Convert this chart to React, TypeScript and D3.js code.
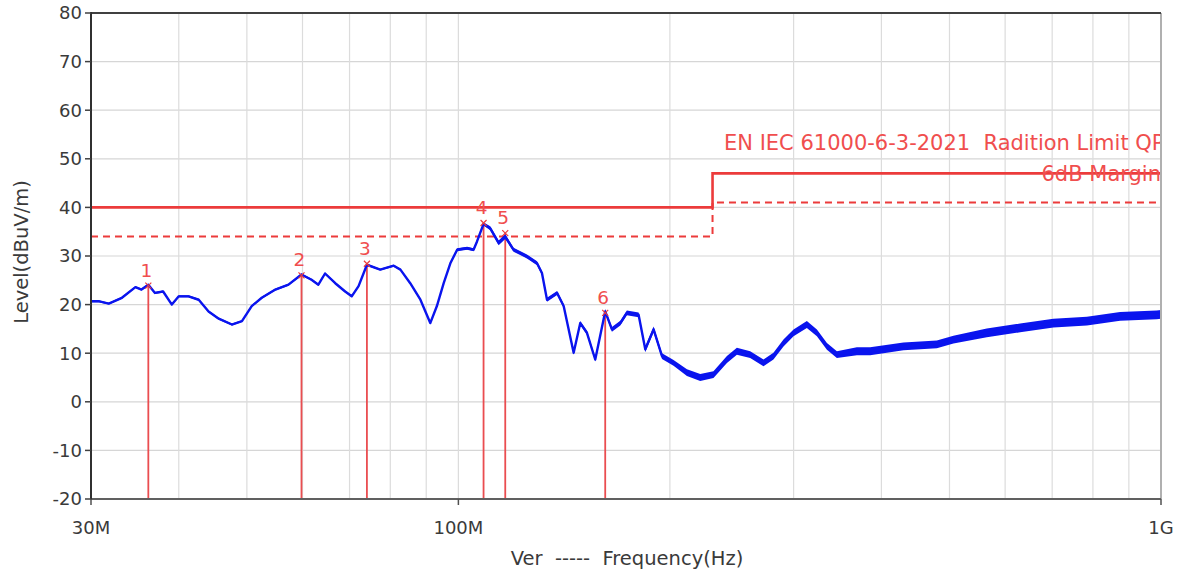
import React from "react";
import * as d3 from "d3";

// ---- data ----
const traceFreqMHz = [
  30, 30.75, 31.8, 33.2, 34.7, 35.4, 36.2, 37.0, 38.0, 39.1, 40.0, 41.3, 42.7, 44.1, 45.6, 47.6, 49.2,
  50.8, 52.5, 54.9, 57.3, 59.8, 61.8, 63.2, 64.6, 66.8, 69.0, 70.5, 72.1, 74.1, 77.4, 80.9, 82.7, 85.4,
  88.3, 91.2, 93.2, 95.3, 97.4, 99.6, 102.9, 105.1, 106.3, 108.6, 111.0, 114.1, 116.6, 119.8, 125.2,
  129.4, 131.5, 133.7, 138.2, 141.2, 145.9, 149.1, 152.4, 156.6, 161.8, 165.4, 170.0, 173.7, 180.5,
  184.5, 189.6, 194.9, 202.4, 211.5, 220.9, 230.7, 241.1, 249.1, 260.2, 271.8, 280.8, 290.2, 299.9,
  313.3, 323.8, 334.6, 345.7, 369.1, 385.5, 430.0, 479.7, 506.5, 565.0, 630.3, 702.9, 784.3, 874.5,
  986, 1000,
];
const traceLevel = [
  20.7, 20.7, 20.2, 21.4, 23.6, 23.1, 24.1, 22.4, 22.7, 20.0, 21.7, 21.7, 21.0, 18.6, 17.1, 15.9, 16.6,
  19.7, 21.4, 23.1, 24.1, 26.2, 25.1, 24.1, 26.4, 24.4, 22.7, 21.7, 23.8, 28.2, 27.2, 28.0, 27.2, 24.4,
  21.0, 16.2, 19.7, 24.4, 28.5, 31.3, 31.6, 31.3, 33.0, 36.6, 35.7, 32.7, 34.0, 31.3, 29.9,
  28.5, 26.5, 21.0, 22.4, 19.7, 10.1, 16.2, 14.2, 8.7, 18.6, 14.9, 16.2, 18.3, 17.9,
  10.8, 14.9, 9.4, 8.0, 6.0, 5.0, 5.6, 8.7, 10.4, 9.7, 8.0, 9.4, 12.1, 14.2,
  15.9, 14.2, 11.4, 9.7, 10.4, 10.4, 11.4, 11.8, 12.8, 14.2, 15.2, 16.2, 16.6, 17.6,
  17.9, 18.0,
];
// half width of the noisy band around the trace (dB)
const traceSpread = [
  0.2, 0.2, 0.2, 0.2, 0.2, 0.2, 0.2, 0.2, 0.2, 0.2, 0.2, 0.2, 0.2, 0.2, 0.2, 0.2, 0.2,
  0.2, 0.2, 0.2, 0.2, 0.2, 0.2, 0.2, 0.2, 0.2, 0.2, 0.2, 0.2, 0.2, 0.2, 0.2, 0.2, 0.2,
  0.2, 0.2, 0.2, 0.2, 0.3, 0.3, 0.3, 0.3, 0.3, 0.3, 0.4, 0.5, 0.5, 0.4, 0.4,
  0.4, 0.4, 0.4, 0.4, 0.4, 0.4, 0.4, 0.4, 0.4, 0.5, 0.5, 0.5, 0.5, 0.5,
  0.6, 0.6, 0.6, 0.6, 0.7, 0.7, 0.7, 0.7, 0.7, 0.7, 0.7, 0.7, 0.7, 0.7,
  0.7, 0.7, 0.7, 0.7, 0.8, 0.8, 0.8, 0.8, 0.8, 0.9, 0.9, 0.9, 0.9, 0.9,
  0.9, 0.9,
];

const markerNo = ["1", "2", "3", "4", "5", "6"];
const markerFreqMHz = [36.2, 59.8, 74.1, 108.6, 116.6, 161.8];
const markerLevel = [23.9, 26.0, 28.4, 36.8, 34.7, 18.3];

const limitFreqMHz = [30, 230, 230, 1000];
const limitLevel = [40, 40, 47, 47];
const marginLevel = [34, 34, 41, 41];

const yTicks = [80, 70, 60, 50, 40, 30, 20, 10, 0, -10, -20];
const xGridMHz = [40, 50, 60, 70, 80, 90, 100, 200, 300, 400, 500, 600, 700, 800, 900];
const xTickMHz = [30, 100, 1000];
const xTickLabels = ["30M", "100M", "1G"];

const limitTitle = "EN IEC 61000-6-3-2021  Radition Limit QP";
const marginTitle = "6dB Margin";
const xTitle = "Ver  -----  Frequency(Hz)";
const yTitle = "Level(dBuV/m)";

// ---- layout ----
const W = 1178;
const H = 573;
const L = 91;
const R = 1161;
const T = 13;
const B = 499;

const FONT = "'DejaVu Sans', Verdana, sans-serif";
const RED = "#ec3b3b";
const STEM = "#ea4d50";
const RED_TEXT = "#f04e4e";
const BLUE = "#0a14ee";

export default function App() {
  const x = d3.scaleLog().domain([30, 1000]).range([L, R]);
  const y = d3.scaleLinear().domain([-20, 80]).range([B, T]);

  const idx = d3.range(traceFreqMHz.length);
  const band = d3
    .area<number>()
    .x((i) => x(traceFreqMHz[i]))
    .y0((i) => y(traceLevel[i] - traceSpread[i]))
    .y1((i) => y(traceLevel[i] + traceSpread[i]));
  const line = d3
    .line<number>()
    .x((i) => x(traceFreqMHz[i]))
    .y((i) => y(traceLevel[i]));
  const limLine = d3
    .line<number>()
    .x((i) => x(limitFreqMHz[i]))
    .y((i) => y(limitLevel[i]));
  const marLine = d3
    .line<number>()
    .x((i) => x(limitFreqMHz[i]))
    .y((i) => y(marginLevel[i]));
  const limIdx = d3.range(limitFreqMHz.length);

  return (
    <svg
      width={W}
      height={H}
      style={{ position: "absolute", left: 0, top: 0, background: "#fff" }}
      fontFamily={FONT}
    >
      <defs>
        <clipPath id="plotClip">
          <rect x={L} y={T} width={R - L} height={B - T} />
        </clipPath>
      </defs>
      {/* grid */}
      {yTicks.map((t) => (
        <line key={"gy" + t} x1={L} x2={R} y1={y(t)} y2={y(t)} stroke="#d6d6d6" strokeWidth={1.2} />
      ))}
      {xGridMHz.map((f) => (
        <line key={"gx" + f} x1={x(f)} x2={x(f)} y1={T} y2={B} stroke="#dcdcdc" strokeWidth={1.2} />
      ))}

      <g clipPath="url(#plotClip)">
        {/* limit lines */}
        <path d={limLine(limIdx) || ""} fill="none" stroke={RED} strokeWidth={2.6} />
        <path d={marLine(limIdx) || ""} fill="none" stroke={RED} strokeWidth={2} strokeDasharray="7,5" />
        <text x={724} y={150} fontSize={21} fill={RED_TEXT} xmlSpace="preserve">
          {limitTitle}
        </text>
        <text x={R} y={181} fontSize={21} fill={RED_TEXT} textAnchor="end">
          {marginTitle}
        </text>

        {/* marker stems */}
        {markerFreqMHz.map((f, i) => (
          <line
            key={"ms" + i}
            x1={x(f)}
            x2={x(f)}
            y1={y(markerLevel[i])}
            y2={B}
            stroke={STEM}
            strokeWidth={1.8}
          />
        ))}

        {/* trace */}
        <path d={band(idx) || ""} fill={BLUE} stroke="none" />
        <path d={line(idx) || ""} fill="none" stroke={BLUE} strokeWidth={2.4} strokeLinejoin="round" />

        {/* marker crosses and numbers */}
        {markerFreqMHz.map((f, i) => {
          const cx = x(f);
          const cy = y(markerLevel[i]);
          return (
            <g key={"mk" + i}>
              <path
                d={`M${cx - 3},${cy - 3}L${cx + 3},${cy + 3}M${cx - 3},${cy + 3}L${cx + 3},${cy - 3}`}
                stroke={RED}
                strokeWidth={1.2}
              />
              <text x={cx - 2} y={cy - 9} fontSize={18.5} fill={RED_TEXT} textAnchor="middle">
                {markerNo[i]}
              </text>
            </g>
          );
        })}
      </g>

      {/* frame */}
      <line x1={R} x2={R} y1={T} y2={B} stroke="#b0b0b0" strokeWidth={2} />
      <line x1={L} x2={R} y1={T} y2={T} stroke="#404040" strokeWidth={2} />
      <line x1={L} x2={R} y1={B} y2={B} stroke="#606060" strokeWidth={2} />
      <line x1={L} x2={L} y1={T - 1} y2={B + 1} stroke="#303030" strokeWidth={2} />

      {/* y ticks */}
      {yTicks.map((t) => (
        <g key={"yt" + t}>
          <line x1={L - 6} x2={L} y1={y(t)} y2={y(t)} stroke="#404040" strokeWidth={1.5} />
          <text x={L - 9} y={y(t)} dy="0.36em" fontSize={18} fill="#3a3a3a" textAnchor="end">
            {t}
          </text>
        </g>
      ))}

      {/* x ticks */}
      {xTickMHz.map((f, i) => (
        <g key={"xt" + f}>
          <line x1={x(f)} x2={x(f)} y1={B} y2={B + 6} stroke="#505050" strokeWidth={1.5} />
          <text x={x(f)} y={B + 35} fontSize={18} fill="#3a3a3a" textAnchor="middle">
            {xTickLabels[i]}
          </text>
        </g>
      ))}

      <text x={627} y={565} fontSize={19.5} fill="#3a3a3a" textAnchor="middle" xmlSpace="preserve">
        {xTitle}
      </text>
      <text
        transform={`translate(28, 252) rotate(-90)`}
        fontSize={19.5}
        fill="#3a3a3a"
        textAnchor="middle"
      >
        {yTitle}
      </text>
    </svg>
  );
}
